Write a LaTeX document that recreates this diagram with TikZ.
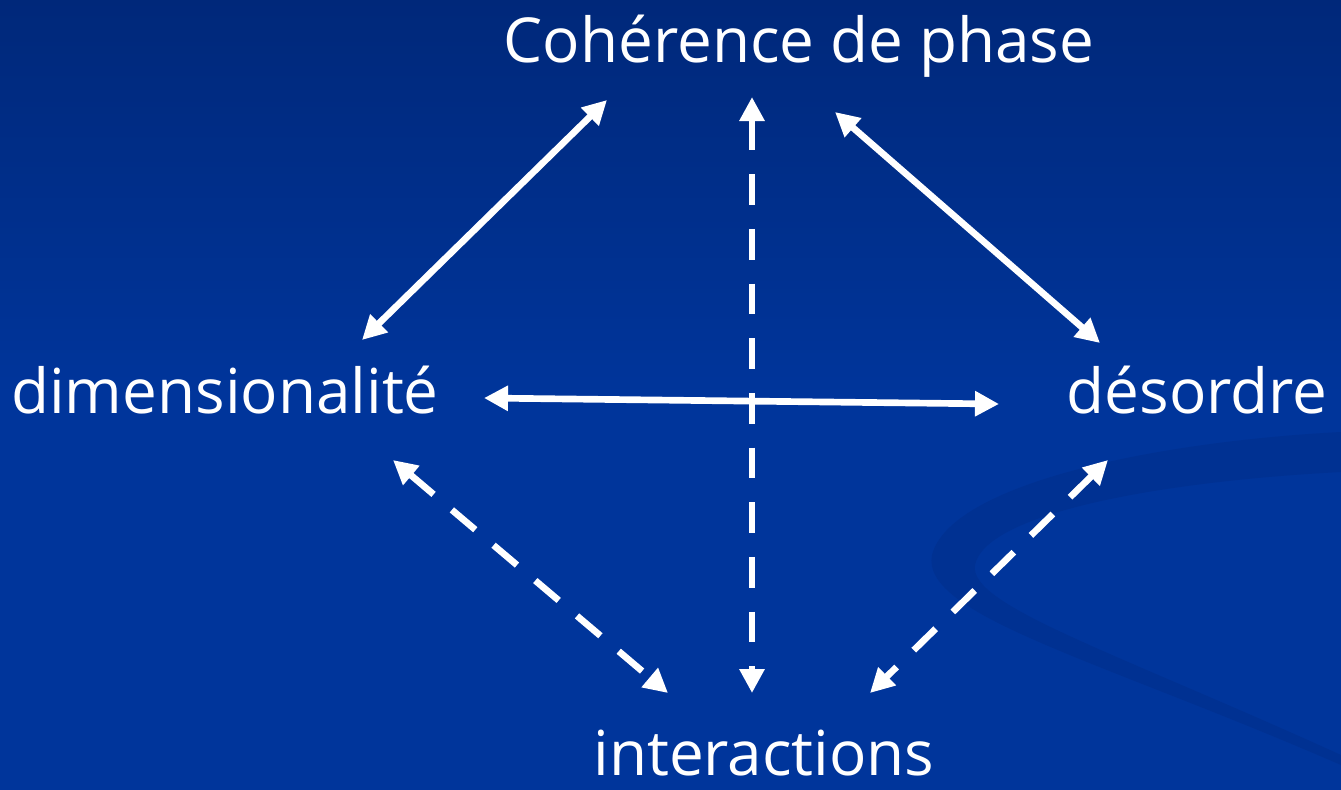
\documentclass[tikz,border=0pt]{standalone}
\usepackage{fontspec}
\setmainfont{Open Sans}
\usetikzlibrary{arrows.meta}
\definecolor{fondhaut}{RGB}{0,40,122}
\definecolor{fondbas}{RGB}{0,53,155}
\definecolor{vague}{RGB}{0,49,146}

\begin{document}
\begin{tikzpicture}[x=0.75pt,y=-0.75pt,
		mot/.style={text=white, inner sep=0pt, anchor=base, font=\fontsize{46.5}{52}\selectfont},
		lien/.style={draw=white, line width=5pt, {Triangle[length=18pt,width=18pt]}-{Triangle[length=18pt,width=18pt]}},
		pointille/.style={lien, dash pattern=on 23pt off 18pt}]
		\shade[top color=fondhaut, bottom color=fondbas, middle color=fondbas] (0,0) rectangle (1341,789);
		\useasboundingbox (0,0) rectangle (1341,789);
		\fill[vague] (1341,432) .. controls (1150,442) and (950,485) .. (932,555) .. controls (920,615) and (1100,660) .. (1341,765)
			-- (1341,755) .. controls (1110,650) and (968,605) .. (975,565) .. controls (985,515) and (1150,482) .. (1341,472) -- cycle;
		\node[mot] (coh) at (799,62) {Cohérence de phase};
		\node[mot] (dim) at (225,413) {dimensionalité};
		\node[mot] (des) at (1197,413) {désordre};
		\node[mot] (inter) at (764,775) {interactions};
		\coordinate (coh-g) at (607,100);
		\coordinate (coh-m) at (752,97);
		\coordinate (coh-d) at (835,112);
		\coordinate (dim-h) at (362,340);
		\coordinate (dim-d) at (484,398);
		\coordinate (dim-b) at (393,460);
		\coordinate (des-h) at (1100,343);
		\coordinate (des-g) at (999,404);
		\coordinate (des-b) at (1108,460);
		\coordinate (inter-g) at (668,693);
		\coordinate (inter-m) at (752,693);
		\coordinate (inter-d) at (870,693);
		\draw[lien] (dim-h) -- (coh-g);
		\draw[lien] (coh-d) -- (des-h);
		\draw[pointille] (coh-m) -- (inter-m);
		\draw[lien] (dim-d) -- (des-g);
		\draw[pointille] (dim-b) -- (inter-g);
		\draw[pointille] (des-b) -- (inter-d);
	\end{tikzpicture}
\end{document}
